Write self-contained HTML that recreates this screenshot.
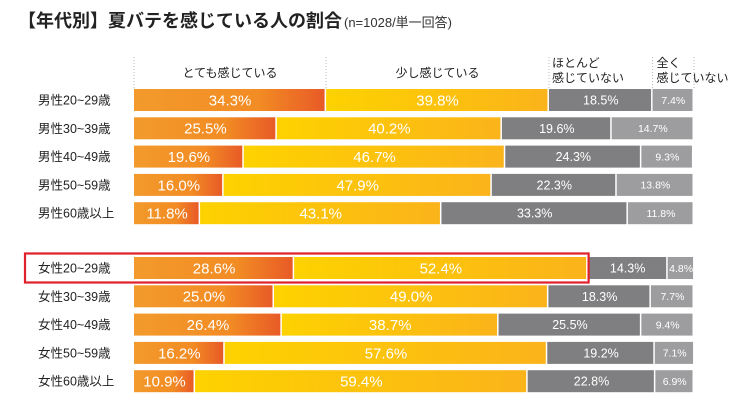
<!DOCTYPE html>
<html><head><meta charset="utf-8"><style>
body{margin:0;background:#fff;width:756px;height:409px;overflow:hidden;font-family:"Liberation Sans","Noto Sans CJK JP",sans-serif}
</style></head><body>
<svg id="chart" width="756" height="409" xmlns="http://www.w3.org/2000/svg" font-family="Liberation Sans, Noto Sans CJK JP, sans-serif">
<defs>
<linearGradient id="gO" x1="0" x2="1" y1="0" y2="0"><stop offset="0" stop-color="#f39a2c"/><stop offset="0.65" stop-color="#f28c24"/><stop offset="1" stop-color="#e85a26"/></linearGradient>
<linearGradient id="gY" x1="0" x2="1" y1="0" y2="0"><stop offset="0" stop-color="#fed200"/><stop offset="1" stop-color="#fbb31a"/></linearGradient>
</defs>
<text x="18" y="27" font-size="18" font-weight="bold" fill="#222">【年代別】夏バテを感じている人の割合<tspan font-size="13" font-weight="normal" fill="#333" dx="2">(n=1028/単一回答)</tspan></text>
<g id="heads"></g>
<g id="bars"></g>
</svg>
<script>
const categories=["男性20~29歳","男性30~39歳","男性40~49歳","男性50~59歳","男性60歳以上","女性20~29歳","女性30~39歳","女性40~49歳","女性50~59歳","女性60歳以上"];
const veryMuch=[34.3,25.5,19.6,16.0,11.8,28.6,25.0,26.4,16.2,10.9];
const aLittle=[39.8,40.2,46.7,47.9,43.1,52.4,49.0,38.7,57.6,59.4];
const hardly=[18.5,19.6,24.3,22.3,33.3,14.3,18.3,25.5,19.2,22.8];
const notAtAll=[7.4,14.7,9.3,13.8,11.8,4.8,7.7,9.4,7.1,6.9];
const seriesNames=["とても感じている","少し感じている","ほとんど感じていない","全く感じていない"];
const NS="http://www.w3.org/2000/svg";
const x0=134,W=560;
const xs=v=>x0+v/100*W;
const rowY=i=>i<5?89+i*28.3:257+(i-5)*28.3;
const BH=22;
const svg=document.getElementById('chart');
const bars=document.getElementById('bars');
const heads=document.getElementById('heads');
function mk(tag,attrs,parent){const e=document.createElementNS(NS,tag);for(const k in attrs)e.setAttribute(k,attrs[k]);parent.appendChild(e);return e;}
const series=[veryMuch,aLittle,hardly,notAtAll];
const fills=["url(#gO)","url(#gY)","#7f7f81","#9d9d9f"];
let acc=0;const bounds=[0];
series.forEach(s=>{acc+=s[0];bounds.push(acc);});
bounds.forEach(b=>{const l=mk('line',{x1:xs(b),x2:xs(b),y1:57,y2:89,stroke:'#bbb','stroke-dasharray':'1,2'},heads);

});
const h1=mk('text',{x:(xs(bounds[0])+xs(bounds[1]))/2,y:77,'font-size':12,'text-anchor':'middle',fill:'#222'},heads);h1.textContent=seriesNames[0];


const h2=mk('text',{x:(xs(bounds[1])+xs(bounds[2]))/2,y:77,'font-size':12,'text-anchor':'middle',fill:'#222'},heads);h2.textContent=seriesNames[1];


const h3=mk('text',{x:xs(bounds[2])+3,y:67,'font-size':12,fill:'#222'},heads);


mk('tspan',{x:xs(bounds[2])+3,dy:0},h3).textContent="ほとんど";mk('tspan',{x:xs(bounds[2])+3,dy:15},h3).textContent="感じていない";
const h4=mk('text',{x:xs(bounds[3])+4,y:67,'font-size':12,fill:'#222'},heads);


mk('tspan',{x:xs(bounds[3])+4,dy:0},h4).textContent="全く";mk('tspan',{x:xs(bounds[3])+4,dy:15},h4).textContent="感じていない";
categories.forEach((c,i)=>{
 const y=rowY(i);
 const lab=mk('text',{x:38,y:y+BH/2+4.5,'font-size':12.5,fill:'#222'},bars);lab.textContent=c;
 
 
 let a=0;
 series.forEach((s,k)=>{
  const v=s[i];const xa=xs(a),xb=xs(a+v);
  const r=mk('rect',{x:xa,y:y,width:Math.max(0,xb-xa-1.5),height:BH,fill:fills[k]},bars);
  
  
  const fs=k<2?15:(k==2?12.5:10.5);
  const t=mk('text',{x:(xa+xb)/2,y:y+BH/2+fs*0.36,'font-size':fs,'text-anchor':'middle',fill:'#fff'},bars);
  t.textContent=v.toFixed(1)+'%';
  
  
  a+=v;
 });
});
const hl=mk('rect',{x:25,y:rowY(5)-3.5,width:xs(veryMuch[5]+aLittle[5])-25+1,height:BH+7,fill:'none',stroke:'#e0202a','stroke-width':2.2},bars);


</script>
</body></html>
